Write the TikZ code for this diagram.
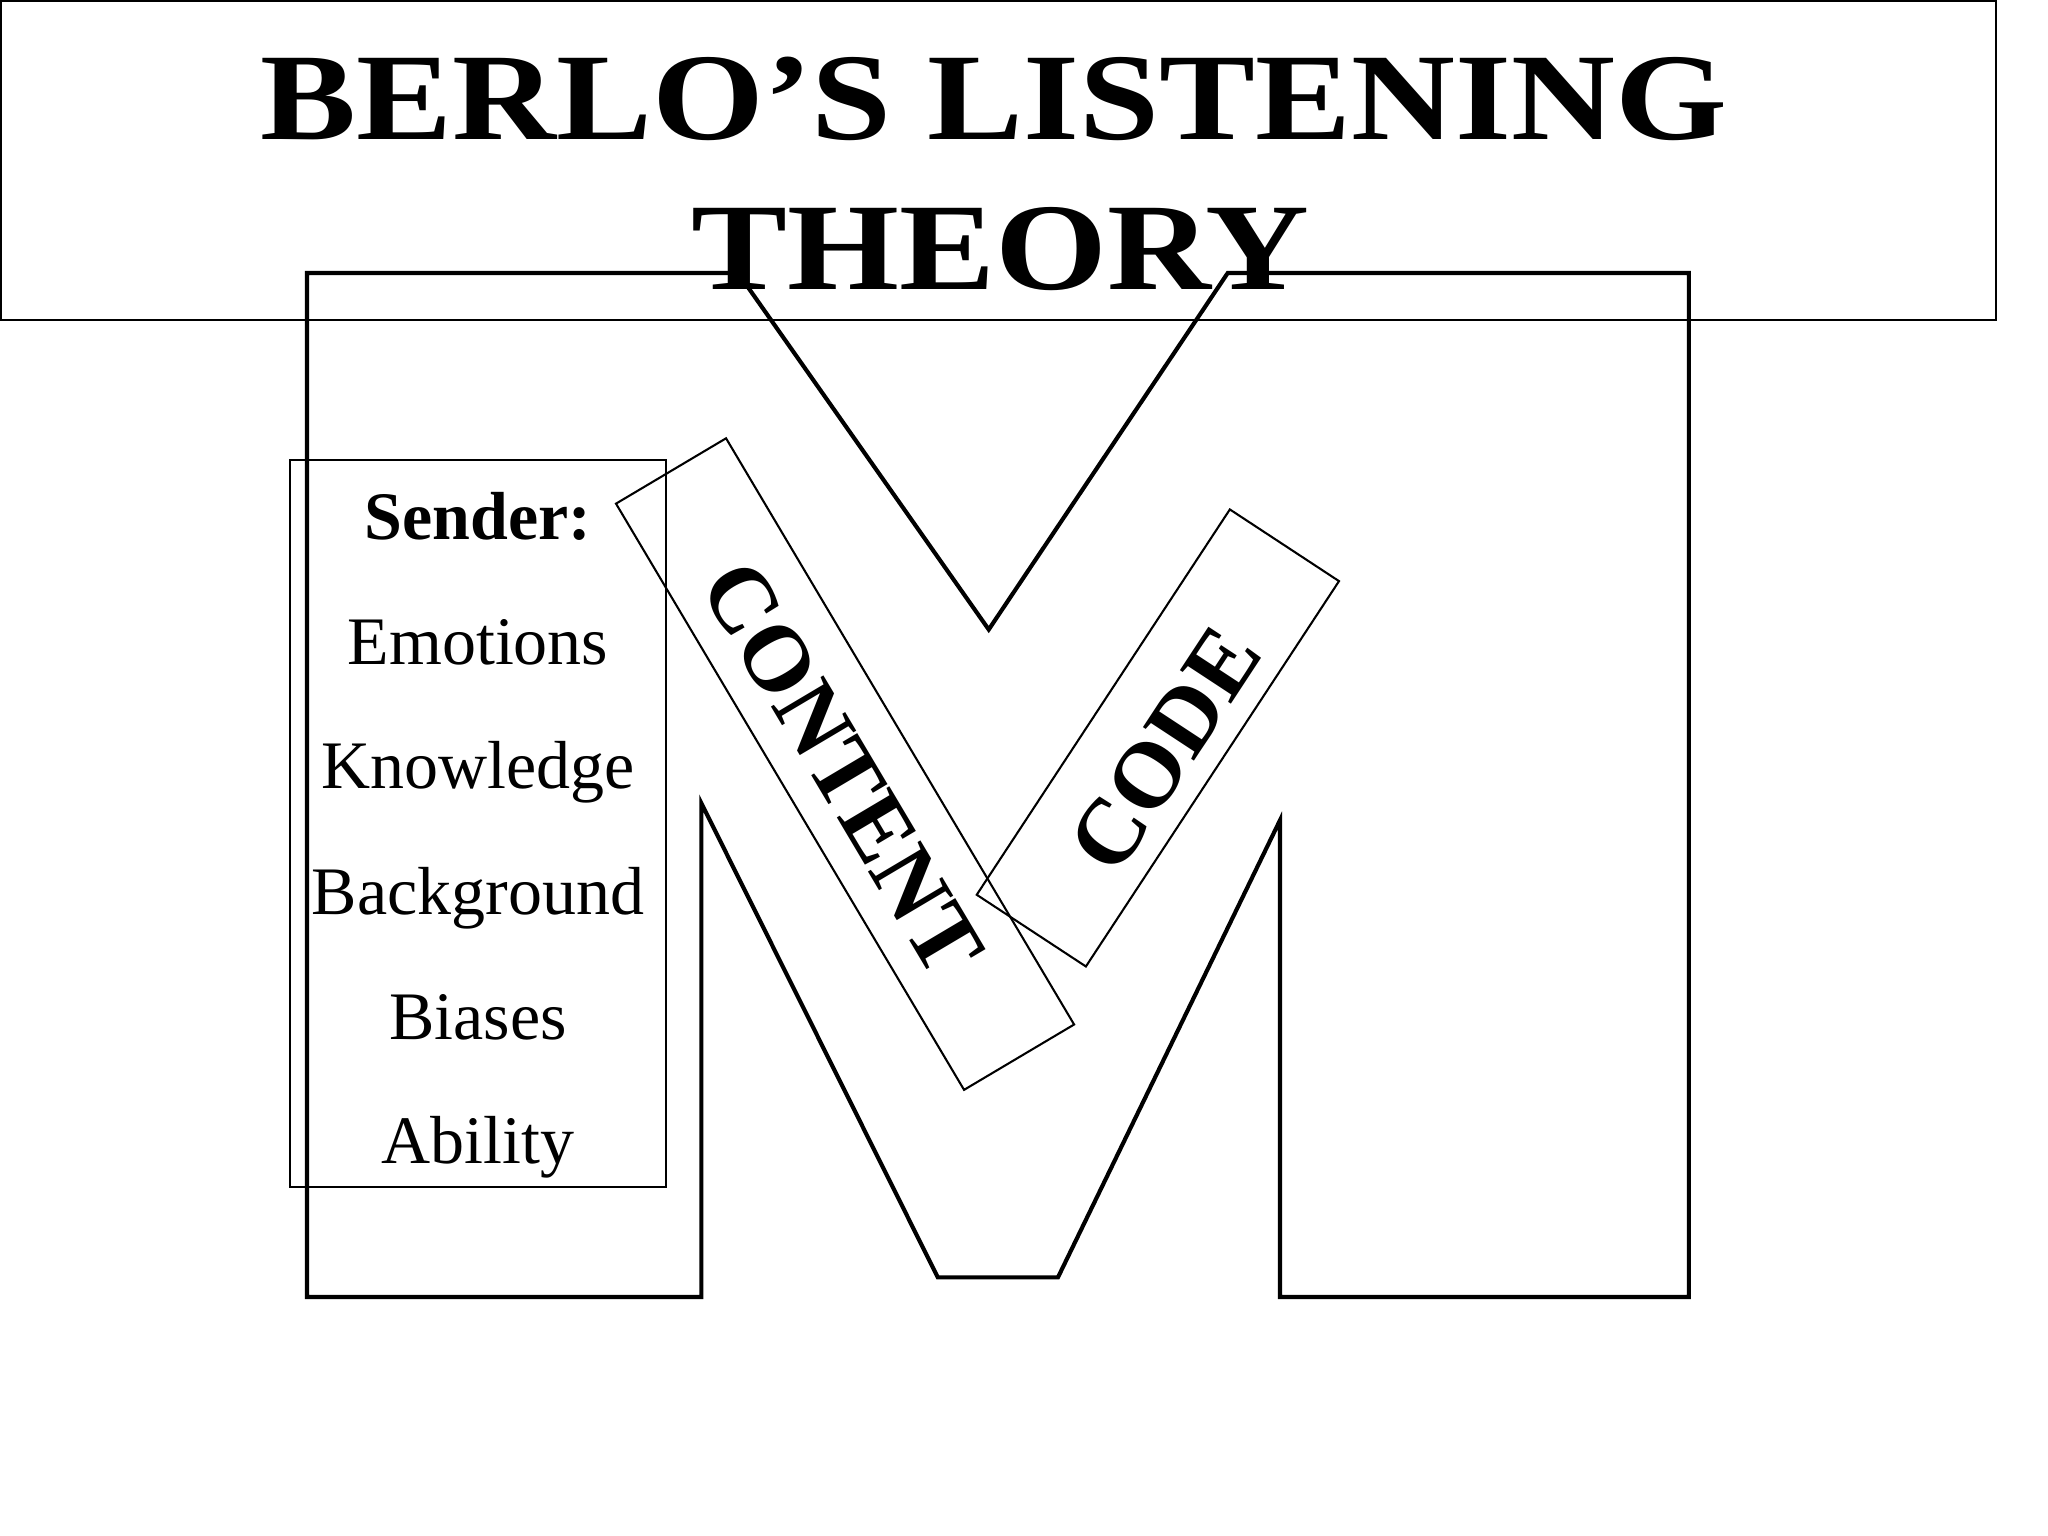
\documentclass[tikz,border=0pt]{standalone}
\usepackage{fontspec}
\setmainfont{Liberation Serif}
\begin{document}
\begin{tikzpicture}[x=0.01cm,y=-0.01cm,
  mline/.style={line width=0.9pt, line join=miter},
  thinbox/.style={draw, line width=0.45pt, inner sep=0pt, fill=none},
  listtxt/.style={font=\fontsize{14.8}{16}\selectfont, anchor=base, inner sep=0pt},
  bandtxt/.style={font=\bfseries\fontsize{20.3}{22}\selectfont, inner sep=0pt},
  titletxt/.style={font=\bfseries\fontsize{27}{30}\selectfont, anchor=base, inner sep=0pt}]
\useasboundingbox (0,0) rectangle (1568,1176);

% M shape
\coordinate (m1) at (235,209);
\coordinate (m2) at (565,209);
\coordinate (m3) at (757,482);
\coordinate (m4) at (940,209);
\coordinate (m5) at (1293,209);
\coordinate (m6) at (1293,993);
\coordinate (m7) at (980,993);
\coordinate (m8) at (980,628);
\coordinate (m9) at (810,978);
\coordinate (m10) at (718,978);
\coordinate (m11) at (537,615);
\coordinate (m12) at (537,993);
\coordinate (m13) at (235,993);
\draw[mline] (m1) -- (m2) -- (m3) -- (m4) -- (m5) -- (m6) -- (m7) -- (m8) -- (m9) -- (m10) -- (m11) -- (m12) -- (m13) -- cycle;

% title box
\node[thinbox, minimum width=1527*0.01cm, minimum height=244*0.01cm] (titlebox) at (764.5,123) {};
\node[titletxt] (t1) at (761,107) {\scalebox{1.16}[1]{BERLO’S LISTENING}};
\node[titletxt] (t2) at (766,222) {\scalebox{1.16}[1]{THEORY}};

% sender box
\node[thinbox, minimum width=288*0.01cm, minimum height=557*0.01cm] (senderbox) at (366,630.5) {};
\node[listtxt, font=\bfseries\fontsize{14.8}{16}\selectfont] (s0) at (366,413) {Sender:};
\node[listtxt] (s1) at (366,509) {Emotions};
\node[listtxt] (s2) at (366,604) {Knowledge};
\node[listtxt] (s3) at (366,700) {Background};
\node[listtxt] (s4) at (366,796) {Biases};
\node[listtxt] (s5) at (366,891) {Ability};

% rotated bands
\node[thinbox, rotate=-59.3, minimum width=522*0.01cm, minimum height=98*0.01cm] (contentbox) at (647,585) {};
\node[bandtxt, rotate=-59.3] (content) at (645,588) {CONTENT};
\node[thinbox, rotate=56.7, minimum width=353*0.01cm, minimum height=100*0.01cm] (codebox) at (886.5,565) {};
\node[bandtxt, rotate=56.7] (code) at (892,574) {CODE};
\end{tikzpicture}
\end{document}
